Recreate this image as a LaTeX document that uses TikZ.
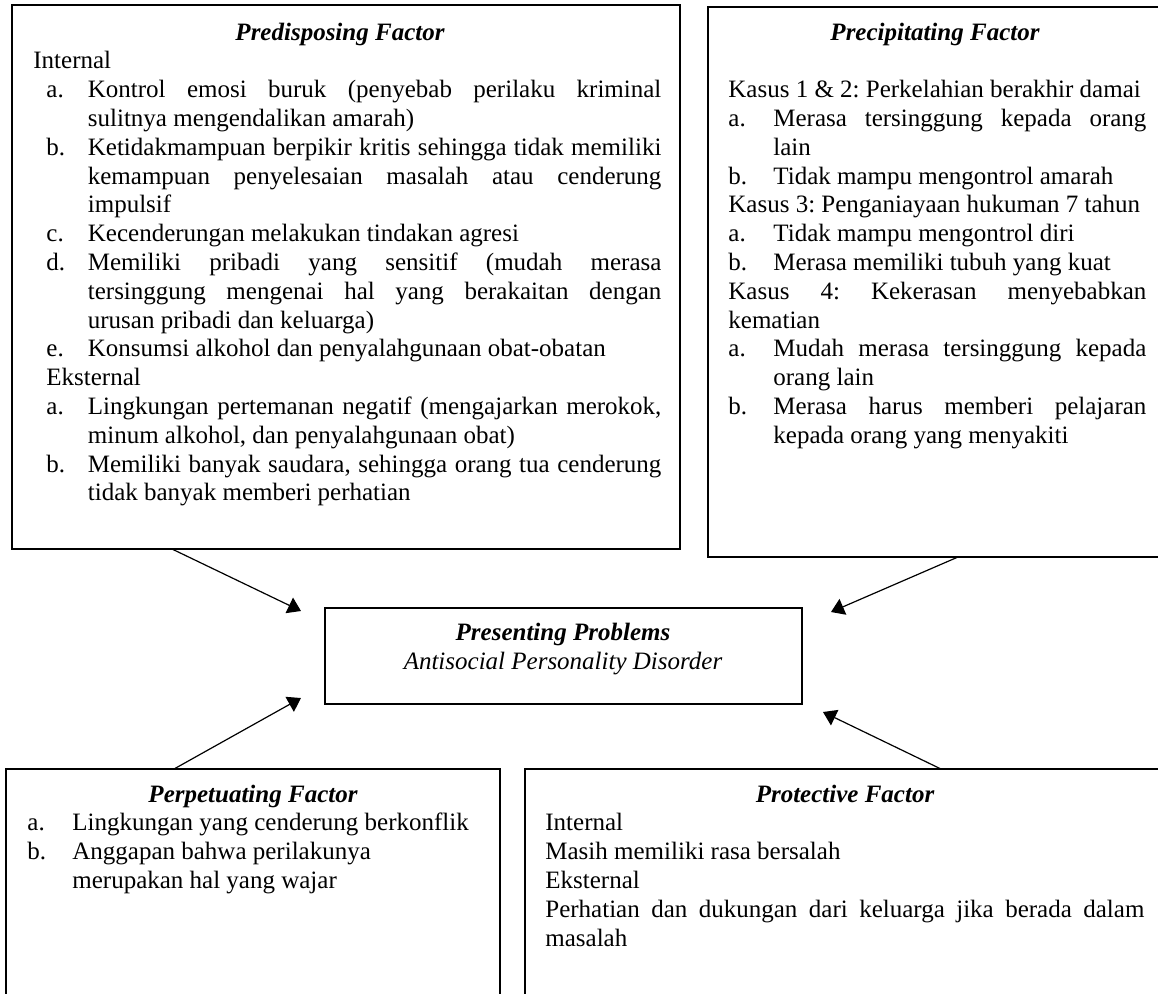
\documentclass[tikz,border=0pt]{standalone}
\usepackage{fontspec}
\setmainfont{Liberation Serif}
\usetikzlibrary{arrows.meta}
\newlength\itind
\newlength\laboff
\newcommand{\myitem}[1]{\par\noindent\hangindent=\itind\hangafter=1\makebox[\itind][l]{\hspace*{\laboff}#1}\ignorespaces}
\newcommand{\bodyset}{\fontsize{12.5pt}{14.4pt}\selectfont\frenchspacing\tolerance=10000\hbadness=10000\hyphenpenalty=10000\exhyphenpenalty=10000\parindent=0pt\parskip=0pt\emergencystretch=0pt}
\begin{document}
\begin{tikzpicture}[x=0.5pt,y=-0.5pt,
  box/.style={draw, line width=1.2pt, anchor=north west, inner sep=0pt, outer sep=0pt},
  ttl/.style={anchor=base, inner sep=0pt, font=\fontsize{12.5pt}{14.4pt}\selectfont\bfseries\itshape},
  sub/.style={anchor=base, inner sep=0pt, font=\fontsize{12.5pt}{14.4pt}\selectfont\itshape},
  body/.style={anchor=base west, inner sep=0pt},
  arr/.style={line width=0.6pt, -{Triangle[length=6.5pt,width=8.5pt]}}]
\clip (0,0) rectangle (1158,993);
\fill[white] (0,0) rectangle (1158,993);
% boxes
\node[box, minimum width=334pt, minimum height=272pt] (pre) at (12,5) {};
\node[box, minimum width=228.5pt, minimum height=275pt] (prec) at (708,7) {};
\node[box, minimum width=238.5pt, minimum height=48pt] (cen) at (325,608) {};
\node[box, minimum width=247pt, minimum height=130pt] (perp) at (6,769) {};
\node[box, minimum width=320pt, minimum height=130pt] (prot) at (525,769) {};
% titles
\node[ttl] (preT) at (340,40) {Predisposing Factor};
\node[ttl] (precT) at (935,40) {Precipitating Factor};
\node[ttl] (cenT) at (563,640) {Presenting Problems};
\node[sub] (cenS) at (563,669) {Antisocial Personality Disorder};
\node[ttl] (perpT) at (253,802) {Perpetuating Factor};
\node[ttl] (protT) at (845,802) {Protective Factor};
% bodies
\node[body] (preB) at (33,68.8) {\begin{minipage}[t]{314pt}\bodyset
\setlength\itind{27.25pt}\setlength\laboff{6.5pt}%
Internal
\myitem{a.}Kontrol emosi buruk (penyebab perilaku kriminal\linebreak sulitnya mengendalikan amarah)
\myitem{b.}Ketidakmampuan berpikir kritis sehingga tidak memiliki\linebreak kemampuan penyelesaian masalah atau cenderung\linebreak impulsif
\myitem{c.}Kecenderungan melakukan tindakan agresi
\myitem{d.}Memiliki pribadi yang sensitif (mudah merasa\linebreak tersinggung mengenai hal yang berakaitan dengan\linebreak urusan pribadi dan keluarga)
\myitem{e.}Konsumsi alkohol dan penyalahgunaan obat-obatan
\par\noindent\hspace*{6.5pt}Eksternal
\myitem{a.}Lingkungan pertemanan negatif (mengajarkan merokok,\linebreak minum alkohol, dan penyalahgunaan obat)
\myitem{b.}Memiliki banyak saudara, sehingga orang tua cenderung\linebreak tidak banyak memberi perhatian
\end{minipage}};
\node[body] (precB) at (728,97.6) {\begin{minipage}[t]{209pt}\bodyset
\setlength\itind{22.5pt}\setlength\laboff{0pt}%
Kasus 1 \& 2: Perkelahian berakhir damai
\myitem{a.}Merasa tersinggung kepada orang\linebreak lain
\myitem{b.}Tidak mampu mengontrol amarah
\par\noindent Kasus 3: Penganiayaan hukuman 7 tahun
\myitem{a.}Tidak mampu mengontrol diri
\myitem{b.}Merasa memiliki tubuh yang kuat
\par\noindent Kasus 4: Kekerasan menyebabkan\linebreak kematian
\myitem{a.}Mudah merasa tersinggung kepada\linebreak orang lain
\myitem{b.}Merasa harus memberi pelajaran\linebreak kepada orang yang menyakiti
\end{minipage}};
\node[body] (perpB) at (27,830.8) {\begin{minipage}[t]{226.5pt}\bodyset
\setlength\itind{22.5pt}\setlength\laboff{0pt}%
\myitem{a.}Lingkungan yang cenderung berkonflik
\myitem{b.}Anggapan bahwa perilakunya\\merupakan hal yang wajar
\end{minipage}};
\node[body] (protB) at (545,830.8) {\begin{minipage}[t]{299.5pt}\bodyset
Internal\par
Masih memiliki rasa bersalah\par
Eksternal\par
Perhatian dan dukungan dari keluarga jika berada dalam\linebreak masalah
\end{minipage}};
% arrow tips
\coordinate (t1) at (301,611);
\coordinate (t2) at (831,612);
\coordinate (t3) at (301,698);
\coordinate (t4) at (823,712);
\draw[arr] ([xshift=80pt]pre.south west) -- (t1);
\draw[arr] ([xshift=125pt]prec.south west) -- (t2);
\draw[arr] ([xshift=84pt]perp.north west) -- (t3);
\draw[arr] ([xshift=208pt]prot.north west) -- (t4);
\end{tikzpicture}
\end{document}
